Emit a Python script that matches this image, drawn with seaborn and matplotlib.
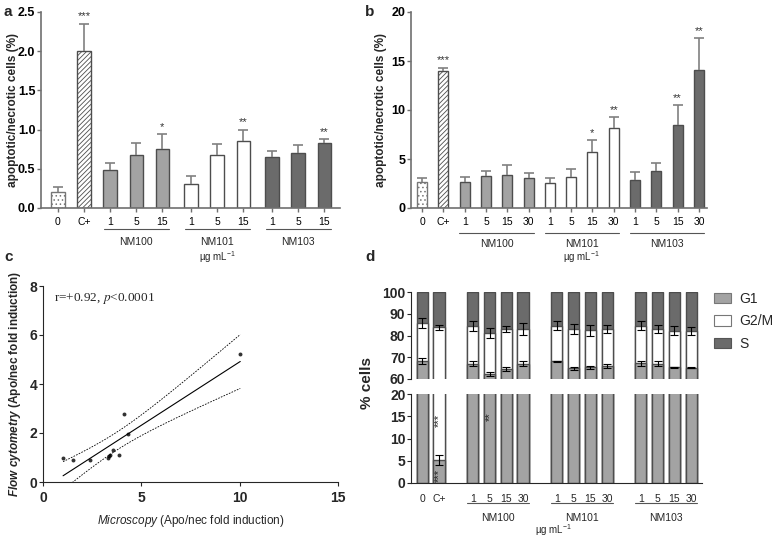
import numpy as np
import pandas as pd
import seaborn as sns
import matplotlib.pyplot as plt
from matplotlib.patches import Patch
from matplotlib.transforms import blended_transform_factory

sns.set_style("ticks")
plt.rcParams['font.family'] = ['Liberation Sans', 'DejaVu Sans']
plt.rcParams['hatch.linewidth'] = 0.6
plt.rcParams['mathtext.fontset'] = 'custom'
plt.rcParams['mathtext.rm'] = 'Liberation Sans'
plt.rcParams['mathtext.it'] = 'Liberation Sans:italic'
plt.rcParams['mathtext.bf'] = 'Liberation Sans:italic:bold'

# --- panel a: apoptotic/necrotic cells, assay 1 ---
a_labels = ["0", "C+", "1", "5", "15", "1", "5", "15", "1", "5", "15"]
a_groups = ["ctrl", "pos", "NM100", "NM100", "NM100", "NM101", "NM101", "NM101",
            "NM103", "NM103", "NM103"]
a_pos = [0, 1, 2, 3, 4, 5.1, 6.1, 7.1, 8.2, 9.2, 10.2]
a_vals = [0.20, 2.00, 0.48, 0.68, 0.75, 0.30, 0.68, 0.85, 0.65, 0.70, 0.83]
a_err = [0.07, 0.35, 0.10, 0.15, 0.19, 0.11, 0.14, 0.15, 0.08, 0.10, 0.05]
a_stars = ["", "***", "", "", "*", "", "", "**", "", "", "**"]

# --- panel b: apoptotic/necrotic cells, assay 2 ---
b_labels = ["0", "C+"] + ["1", "5", "15", "30"] * 3
b_groups = ["ctrl", "pos"] + ["NM100"] * 4 + ["NM101"] * 4 + ["NM103"] * 4
b_pos = list(range(14))
b_vals = [2.65, 13.95, 2.65, 3.25, 3.4, 3.1, 2.55, 3.15, 5.7, 8.15, 2.9, 3.8, 8.5, 14.1]
b_err = [0.4, 0.35, 0.55, 0.5, 0.95, 0.5, 0.5, 0.78, 1.2, 1.1, 0.75, 0.8, 2.0, 3.2]
b_stars = ["", "***", "", "", "", "", "", "", "*", "**", "", "", "**", "**"]

# --- panel c: microscopy vs flow cytometry ---
micro = [1.02, 1.53, 2.41, 3.30, 3.37, 3.42, 3.54, 3.85, 4.14, 4.34, 10.03]
flow = [1.00, 0.88, 0.88, 0.98, 1.05, 1.09, 1.29, 1.09, 2.76, 1.95, 5.22]

# --- panel d: cell cycle ---
d_labels = b_labels
d_groups = b_groups
d_pos = [0, 1, 3, 4, 5, 6, 8, 9, 10, 11, 13, 14, 15, 16]
g1 = [68.3, 5.2, 67.1, 62.4, 64.7, 67.0, 68.2, 64.9, 65.3, 66.0, 67.3, 67.0, 65.4, 65.1]
g1_err = [1.5, 1.1, 1.2, 0.8, 0.8, 1.2, 0.3, 0.7, 0.7, 1.1, 1.2, 1.2, 0.3, 0.2]
g2m = [17.5, 78.5, 17.3, 18.9, 18.3, 16.1, 16.3, 17.9, 17.0, 17.0, 17.2, 16.1, 16.8, 17.1]
g2m_err = [2.2, 1.0, 2.3, 2.3, 1.5, 2.7, 2.2, 2.3, 2.4, 2.0, 2.2, 1.8, 2.0, 1.8]
s_phase = [14.2, 16.3, 15.6, 18.7, 17.0, 16.9, 15.5, 17.2, 17.7, 17.0, 15.5, 16.9, 17.8, 17.7]
d_stars = [("***", 1, 14.0), ("***", 1, 1.8), ("**", 4, 15.0)]

LIGHT = "#a3a3a3"
DARK = "#6b6b6b"
EDGE = "#4d4d4d"
pal = {"ctrl": "white", "pos": "white", "NM100": LIGHT, "NM101": "white", "NM103": DARK}

W, H = 780, 537
fig = plt.figure(figsize=(W / 100, H / 100), dpi=100)


def px_axes(left, top, right, bottom):
    return fig.add_axes([left / W, 1 - bottom / H, (right - left) / W, (bottom - top) / H])


def group_marks(ax, pos, groups, y_line, y_text, half, fs=7.5):
    tr = blended_transform_factory(ax.transData, ax.transAxes)
    for name in ["NM100", "NM101", "NM103"]:
        xs = [p for p, g in zip(pos, groups) if g == name]
        ax.plot([min(xs) - half, max(xs) + half], [y_line, y_line], transform=tr,
                clip_on=False, color="#555555", lw=0.8)
        ax.text((min(xs) + max(xs)) / 2, y_text, name, transform=tr,
                ha="center", va="center", fontsize=fs)


def apo_panel(ax, pos, labels, groups, vals, err, stars, width, xlim, ylim, yticks, fmt, star_off):
    df = pd.DataFrame({"pos": pos, "val": vals, "grp": groups})
    sns.barplot(data=df, x="pos", y="val", hue="grp", palette=pal, native_scale=True,
                width=width, saturation=1, edgecolor=EDGE, linewidth=1.0,
                legend=False, errorbar=None, ax=ax)
    for p in ax.patches:
        cx = p.get_x() + p.get_width() / 2
        if abs(cx - pos[0]) < 0.01:
            p.set_hatch("....")
            p.set_edgecolor("#777777")
        elif abs(cx - pos[1]) < 0.01:
            p.set_hatch("///////")
    eb = ax.errorbar(pos, vals, yerr=[np.zeros(len(err)), err], fmt="none",
                     ecolor="#808080", elinewidth=1.2, capsize=3.5, capthick=1.2, zorder=1)
    eb[1][0].set_visible(False)
    for x, v, e, st in zip(pos, vals, err, stars):
        if st:
            ax.text(x, v + e + star_off, st, ha="center", va="bottom", fontsize=8, color="#333333")
    ax.set_xlim(*xlim)
    ax.set_ylim(*ylim)
    ax.set_yticks(yticks)
    ax.set_yticklabels([fmt.format(t) for t in yticks], fontsize=9, fontweight="bold")
    ax.set_xticks(pos)
    ax.set_xticklabels(labels, fontsize=7.5)
    ax.set_xlabel("")
    ax.set_ylabel("apoptotic/necrotic cells (%)", fontsize=8.5, fontweight="bold")
    sns.despine(ax=ax)
    for sp in ("left", "bottom"):
        ax.spines[sp].set_color("#6f6f6f")
        ax.spines[sp].set_linewidth(1.2)
    ax.tick_params(axis="both", colors="#6f6f6f", labelcolor="black", length=3, width=1)
    ax.tick_params(axis="y", pad=1)


# ---------- panel a ----------
ax_a = px_axes(41, 12, 340, 208)
apo_panel(ax_a, a_pos, a_labels, a_groups, a_vals, a_err, a_stars, 0.52,
          (-0.65, 10.8), (0, 2.5), [0, 0.5, 1.0, 1.5, 2.0, 2.5], "{:.1f}", 0.03)
ax_a.yaxis.set_label_coords(-0.074, 0.5)
group_marks(ax_a, a_pos, a_groups, -0.109, -0.172, 0.25)
ax_a.text(6.1, -0.25, "µg mL$^{-1}$", transform=blended_transform_factory(ax_a.transData, ax_a.transAxes),
          ha="center", va="center", fontsize=7)

# ---------- panel b ----------
ax_b = px_axes(411, 12, 707, 208)
apo_panel(ax_b, b_pos, b_labels, b_groups, b_vals, b_err, b_stars, 0.47,
          (-0.52, 13.38), (0, 20), [0, 5, 10, 15, 20], "{:d}", 0.25)
ax_b.yaxis.set_label_coords(-0.081, 0.5)
group_marks(ax_b, b_pos, b_groups, -0.126, -0.186, 0.25)
ax_b.text(7.5, -0.253, "µg mL$^{-1}$", transform=blended_transform_factory(ax_b.transData, ax_b.transAxes),
          ha="center", va="center", fontsize=7)

# ---------- panel c ----------
ax_c = px_axes(43, 286, 338, 482)
xs = np.array(micro)
ys = np.array(flow)
sns.regplot(x=xs, y=ys, ci=None, ax=ax_c,
            scatter_kws=dict(s=8, color="black", linewidths=0),
            line_kws=dict(color="black", lw=0.8))
# 95% confidence band of the linear fit
slope, icpt = np.polyfit(xs, ys, 1)
xx = np.linspace(xs.min(), xs.max(), 100)
n = len(xs)
resid = ys - (slope * xs + icpt)
s_err = np.sqrt(np.sum(resid ** 2) / (n - 2))
band = 2.262 * s_err * np.sqrt(1 / n + (xx - xs.mean()) ** 2 / np.sum((xs - xs.mean()) ** 2))
fit = slope * xx + icpt
ax_c.plot(xx, fit + band, color="black", lw=0.6, ls=(0, (2, 1.5)))
ax_c.plot(xx, fit - band, color="black", lw=0.6, ls=(0, (2, 1.5)))
ax_c.set_xlim(0, 15)
ax_c.set_ylim(0, 8)
ax_c.set_xticks([0, 5, 10, 15])
ax_c.set_yticks([0, 2, 4, 6, 8])
ax_c.tick_params(labelsize=10, length=3)
ax_c.tick_params(axis="y", pad=1)
for lab in ax_c.get_xticklabels() + ax_c.get_yticklabels():
    lab.set_fontweight("bold")
sns.despine(ax=ax_c)
ax_c.set_xlabel(r"$\it{Microscopy}$ (Apo/nec fold induction)", fontsize=8.5)
ax_c.set_ylabel(r"$\mathbf{Flow\ cytometry}$ (Apo/nec fold induction)", fontsize=8.5, fontweight="bold")
ax_c.xaxis.set_label_coords(0.5, -0.158)
ax_c.yaxis.set_label_coords(-0.068, 0.5)
ax_c.text(0.55, 7.5, "r=+0.92, $\\it{p}$<0.0001", family=["Liberation Serif"],
          math_fontfamily="stix", fontsize=9.5, va="center")

# ---------- panel d (broken axis) ----------
ax_dt = px_axes(411, 292, 702, 379)
ax_db = px_axes(411, 394, 702, 483)
dfd = pd.DataFrame({"pos": d_pos, "g1": g1, "g2m": g2m, "s": s_phase})
dfd["cum"] = dfd["g1"] + dfd["g2m"]
dfd["total"] = dfd["cum"] + dfd["s"]
for ax in (ax_dt, ax_db):
    for col, colr in (("total", DARK), ("cum", "white"), ("g1", LIGHT)):
        sns.barplot(data=dfd, x="pos", y=col, native_scale=True, width=0.67, color=colr,
                    saturation=1, edgecolor=EDGE, linewidth=1.0, errorbar=None, ax=ax)
    ax.errorbar(d_pos, dfd["g1"], yerr=g1_err, fmt="none", ecolor="black",
                elinewidth=0.8, capsize=3, capthick=0.8)
    ax.errorbar(d_pos, dfd["cum"], yerr=g2m_err, fmt="none", ecolor="black",
                elinewidth=0.8, capsize=3, capthick=0.8)
    ax.set_xlim(-0.67, 16.64)
    ax.set_xlabel("")
    ax.set_ylabel("")
    ax.tick_params(axis="y", labelsize=10, length=3, pad=1)

ax_dt.set_ylim(60, 100)
ax_dt.set_yticks([60, 70, 80, 90, 100])
ax_dt.set_yticklabels(["60", "70", "80", "90", "100"], fontsize=10, fontweight="bold")
ax_dt.set_xticks([])
sns.despine(ax=ax_dt, bottom=True)

ax_db.set_ylim(0, 20)
ax_db.set_yticks([0, 5, 10, 15, 20])
ax_db.set_yticklabels(["0", "5", "10", "15", "20"], fontsize=10, fontweight="bold")
ax_db.set_xticks(d_pos)
ax_db.set_xticklabels(d_labels, fontsize=7.5)
ax_db.tick_params(axis="x", length=0, pad=8)
sns.despine(ax=ax_db)
for txt, x, y in d_stars:
    ax_db.text(x, y, txt, rotation=90, ha="center", va="center", fontsize=8, color="#222222")
group_marks(ax_db, d_pos, d_groups, -0.225, -0.39, 0.335)
ax_db.text(7.8, -0.53, "µg mL$^{-1}$", transform=blended_transform_factory(ax_db.transData, ax_db.transAxes),
           ha="center", va="center", fontsize=7)

handles = [Patch(facecolor=LIGHT, edgecolor="#777777", lw=0.8),
           Patch(facecolor="white", edgecolor="#777777", lw=0.8),
           Patch(facecolor=DARK, edgecolor="#555555", lw=0.8)]
fig.legend(handles, ["G1", "G2/M", "S"], loc="upper left", bbox_to_anchor=(714 / W, 1 - 292 / H),
           frameon=False, fontsize=10, handlelength=1.2, handleheight=0.8,
           handletextpad=0.6, labelspacing=0.6, borderaxespad=0, borderpad=0)
fig.text(367 / W, 1 - 383 / H, "% cells", rotation=90, ha="center", va="center",
         fontsize=11, fontweight="bold")

# ---------- panel letters ----------
for letter, x, y in (("a", 8, 12), ("b", 370, 12), ("c", 9, 257), ("d", 370, 257)):
    fig.text(x / W, 1 - y / H, letter, fontsize=11, fontweight="bold", ha="center", va="center")

fig.savefig("out.png", dpi=100)
